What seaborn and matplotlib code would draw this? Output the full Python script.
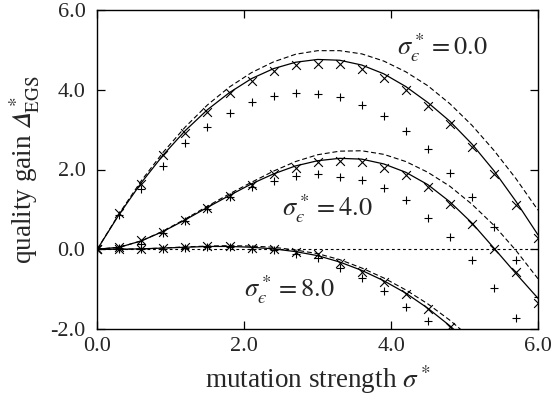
import numpy as np
import pandas as pd
import matplotlib
matplotlib.use("Agg")
import matplotlib.pyplot as plt
import seaborn as sns
from matplotlib.ticker import FixedLocator, FixedFormatter

nan = float("nan")

# mutation strength sigma* (marker / curve sample positions)
sigma = [0.0, 0.3, 0.6, 0.9, 1.2, 1.5, 1.8, 2.1, 2.4, 2.7, 3.0,
         3.3, 3.6, 3.9, 4.2, 4.5, 4.8, 5.1, 5.4, 5.7, 6.0]

# solid / dashed curves
solid_0 = [0, 0.88, 1.67, 2.37, 2.98, 3.50, 3.93, 4.28, 4.53, 4.69, 4.76,
           4.74, 4.62, 4.40, 4.08, 3.68, 3.21, 2.64, 1.97, 1.20, 0.36]
dashed_0 = [0, 0.90, 1.72, 2.44, 3.07, 3.62, 4.07, 4.43, 4.70, 4.89, 4.98,
            4.98, 4.90, 4.72, 4.45, 4.10, 3.65, 3.11, 2.48, 1.77, 0.98]
solid_4 = [0, 0.05, 0.21, 0.45, 0.74, 1.05, 1.35, 1.64, 1.89, 2.09, 2.22,
           2.28, 2.26, 2.14, 1.93, 1.62, 1.19, 0.66, 0.03, -0.61, -1.23]
dashed_4 = [0, 0.05, 0.21, 0.46, 0.76, 1.08, 1.39, 1.68, 1.96, 2.20, 2.37,
            2.46, 2.47, 2.38, 2.20, 1.93, 1.58, 1.13, 0.60, -0.03, -0.74]
solid_8 = [0, 0.0, 0.01, 0.03, 0.05, 0.07, 0.07, 0.05, 0.01, -0.06, -0.16,
           -0.32, -0.53, -0.79, -1.10, -1.48, -1.92, -2.42]
dashed_8 = [0, 0.0, 0.01, 0.03, 0.06, 0.08, 0.09, 0.08, 0.05, -0.02, -0.11,
            -0.26, -0.47, -0.72, -1.02, -1.37, -1.78, -2.25]

# simulation markers: x-crosses and plus signs
cross_0 = [0, 0.91, 1.63, 2.36, 2.92, 3.45, 3.91, 4.22, 4.46, 4.61, 4.65,
           4.64, 4.51, 4.30, 3.99, 3.59, 3.15, 2.57, 1.88, 1.12, 0.29]
plus_0 = [0, 0.85, 1.50, 2.10, 2.66, 3.07, 3.41, 3.70, 3.84, 3.93, 3.89,
          3.81, 3.61, 3.33, 2.97, 2.51, 1.91, 1.30, 0.56, -0.27, -1.21]
cross_4 = [0, 0.05, 0.22, 0.44, 0.73, 1.03, 1.34, 1.62, 1.89, 2.05, 2.18,
           2.22, 2.20, 2.03, 1.87, 1.55, 1.14, 0.64, 0.01, -0.58, -1.36]
plus_4 = [0, 0.04, 0.14, 0.40, 0.70, 1.00, 1.30, 1.55, 1.71, 1.84, 1.89,
          1.82, 1.74, 1.54, 1.23, 0.79, 0.30, -0.27, -0.96, -1.73, nan]
cross_8 = [0, 0.0, 0.0, 0.02, 0.05, 0.07, 0.08, 0.03, 0.0, -0.08, -0.13,
           -0.35, -0.56, -0.81, -1.12, -1.50, -1.96, nan, nan, nan, nan]
plus_8 = [0, 0.0, 0.0, 0.01, 0.04, 0.05, 0.06, 0.01, -0.02, -0.12, -0.22,
          -0.46, -0.73, -1.04, -1.46, -1.81, nan, nan, nan, nan, nan]

noise_labels = ["$\\sigma^*_{\u03f5} = 0.0$", "$\\sigma^*_{\u03f5} = 4.0$",
                "$\\sigma^*_{\u03f5} = 8.0$"]
x_ticks = [0.0, 2.0, 4.0, 6.0]
x_tick_labels = ["0.0", "2.0", "4.0", "6.0"]
y_ticks = [-2.0, 0.0, 2.0, 4.0, 6.0]
y_tick_labels = ["-2.0", "0.0", "2.0", "4.0", "6.0"]

sns.set_style("ticks")
plt.rcParams["font.family"] = ["Liberation Serif", "DejaVu Serif"]
plt.rcParams["mathtext.fontset"] = "stix"
plt.rcParams["xtick.direction"] = "in"
plt.rcParams["ytick.direction"] = "in"

fig = plt.figure(figsize=(5.52, 4.03), dpi=100)
ax = fig.add_axes([97.3 / 552, 1 - 329 / 403, (538 - 97.3) / 552, (329 - 10) / 403])

ax.axhline(0, color="black", lw=0.8, ls=(0, (2.5, 2.5)), zorder=1)

for xs, ys, style in [(sigma, solid_0, "-"), (sigma, dashed_0, "--"),
                      (sigma, solid_4, "-"), (sigma, dashed_4, "--"),
                      (sigma[:len(solid_8)], solid_8, "-"),
                      (sigma[:len(dashed_8)], dashed_8, "--")]:
    df = pd.DataFrame({"s": xs, "q": ys})
    if style == "-":
        sns.lineplot(data=df, x="s", y="q", ax=ax, color="black", lw=0.9,
                     estimator=None, sort=False, zorder=2)
    else:
        sns.lineplot(data=df, x="s", y="q", ax=ax, color="black", lw=0.8,
                     estimator=None, sort=False, zorder=2,
                     dashes=False, linestyle=(0, (4.5, 2.5)))

for ys, mk in [(cross_0, "x"), (plus_0, "+"), (cross_4, "x"), (plus_4, "+"),
               (cross_8, "x"), (plus_8, "+")]:
    df = pd.DataFrame({"s": sigma, "q": ys}).dropna()
    sns.scatterplot(data=df, x="s", y="q", ax=ax, marker=mk, s=40,
                    color="black", linewidth=0.8, zorder=3)

ax.text(4.70, 5.05, noise_labels[0], fontsize=19, ha="center", va="center")
ax.text(3.13, 1.03, noise_labels[1], fontsize=19, ha="center", va="center")
ax.text(2.62, -1.02, noise_labels[2], fontsize=19, ha="center", va="center")

ax.set_xlim(0, 6)
ax.set_ylim(-2, 6)
ax.xaxis.set_major_locator(FixedLocator(x_ticks))
ax.xaxis.set_major_formatter(FixedFormatter(x_tick_labels))
ax.yaxis.set_major_locator(FixedLocator(y_ticks))
ax.yaxis.set_major_formatter(FixedFormatter(y_tick_labels))
ax.tick_params(axis="both", which="both", direction="in", length=6, width=0.9,
               top=True, right=True, labelsize=16, color="black")
ax.tick_params(axis="x", pad=6)
ax.tick_params(axis="y", pad=8.5)
for sp in ax.spines.values():
    sp.set_linewidth(1.0)
    sp.set_color("black")

ax.set_xlabel("mutation strength $\\sigma^*$", fontsize=19.5, labelpad=5)
ax.set_ylabel("quality gain $\U0001D6E5^*_{\\mathrm{EGS}}$", fontsize=19.5, labelpad=6)

fig.savefig("out.png", dpi=100)
